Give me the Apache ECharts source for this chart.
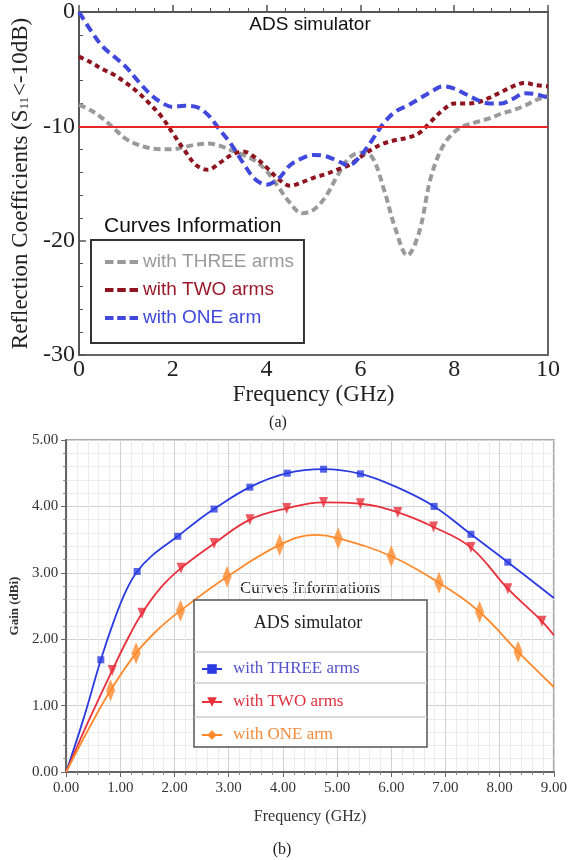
<!DOCTYPE html>
<html>
<head>
<meta charset="utf-8">
<script src="https://cdn.jsdelivr.net/npm/echarts@6.0.0/dist/echarts.min.js"></script>
<style>
html, body { margin: 0; padding: 0; background: #fff; }
#chart { width: 570px; height: 860px; }
</style>
</head>
<body>
<div id="chart"></div>
<script>
// (a) reflection coefficients, dB vs GHz
const freqA = [0, 0.25, 0.5, 0.75, 1, 1.25, 1.5, 1.75, 2, 2.25, 2.5, 2.75, 3, 3.25, 3.5, 3.75, 4, 4.25, 4.5, 4.75,
    5, 5.25, 5.5, 5.75, 6, 6.25, 6.5, 6.75, 7, 7.25, 7.5, 7.75, 8, 8.25, 8.5, 8.75, 9, 9.25, 9.5, 9.75, 10];
const s11Three = [-8.1, -8.6, -9.3, -10.2, -11.1, -11.6, -11.9, -12.0, -12.0, -11.8, -11.6, -11.5, -11.7, -12.1, -12.5, -13.0, -13.9, -15.3, -16.7, -17.6,
    -17.3, -16.2, -14.4, -12.8, -12.3, -12.7, -15.5, -19.0, -21.3, -19.3, -14.5, -11.8, -10.5, -9.9, -9.6, -9.3, -8.9, -8.6, -8.2, -7.7, -7.3];
const s11Two = [-3.9, -4.4, -5.0, -5.5, -6.2, -7.0, -8.0, -9.1, -10.6, -12.1, -13.4, -13.8, -13.2, -12.5, -12.2, -12.7, -13.6, -14.6, -15.2, -14.9,
    -14.5, -14.2, -13.8, -13.4, -12.7, -12.0, -11.5, -11.2, -11.0, -10.6, -9.6, -8.6, -8.0, -8.0, -7.9, -7.5, -7.0, -6.5, -6.2, -6.4, -6.5];
const s11One = [0, -1.6, -3.0, -3.9, -4.8, -6.0, -7.1, -7.9, -8.3, -8.2, -8.3, -9.0, -10.3, -11.6, -13.2, -14.6, -15.1, -14.6, -13.4, -12.8,
    -12.5, -12.6, -13.0, -13.4, -12.6, -11.2, -9.7, -8.7, -8.2, -7.6, -7.0, -6.5, -6.7, -7.2, -7.7, -8.0, -8.0, -7.6, -7.1, -7.2, -7.5];
const s11Limit = -10;

// (b) gain, [GHz, dBi]
const gainThreeLine = [[0, 0], [0.32, 0.8], [0.64, 1.69], [0.87, 2.25], [1.1, 2.72], [1.31, 3.02], [1.6, 3.27], [2.06, 3.55], [2.4, 3.77], [2.73, 3.96],
    [3.39, 4.29], [4.08, 4.5], [4.75, 4.56], [5.43, 4.49], [6.1, 4.29], [6.79, 4.0], [7.47, 3.58], [8.15, 3.16], [9, 2.62]];
const gainThreeMarks = [[0.64, 1.69], [1.31, 3.02], [2.06, 3.55], [2.73, 3.96], [3.39, 4.29], [4.08, 4.5], [4.75, 4.56], [5.43, 4.49],
    [6.79, 4.0], [7.47, 3.58], [8.15, 3.16]];
const gainTwoLine = [[0, 0], [0.42, 0.78], [0.85, 1.53], [1.12, 1.98], [1.4, 2.39], [1.75, 2.78], [2.12, 3.07], [2.73, 3.44], [3.39, 3.8],
    [4.07, 3.97], [4.75, 4.06], [5.43, 4.04], [6.12, 3.91], [6.78, 3.69], [7.47, 3.38], [8.15, 2.76], [8.78, 2.27], [9, 2.06]];
const gainTwoMarks = [[0.85, 1.53], [1.4, 2.39], [2.12, 3.07], [2.73, 3.44], [3.39, 3.8], [4.07, 3.97], [4.75, 4.06], [5.43, 4.04],
    [6.12, 3.91], [6.78, 3.69], [7.47, 3.38], [8.15, 2.76], [8.78, 2.27]];
const gainOneLine = [[0, 0], [0.41, 0.64], [0.82, 1.23], [1.29, 1.79], [1.7, 2.15], [2.11, 2.43], [2.97, 2.94], [3.94, 3.42], [4.59, 3.57],
    [5.02, 3.52], [6.0, 3.25], [6.88, 2.85], [7.63, 2.41], [8.34, 1.81], [9, 1.28]];
const gainOneMarks = [[0.82, 1.23], [1.29, 1.79], [2.11, 2.43], [2.97, 2.94], [3.94, 3.42], [5.02, 3.52], [6.0, 3.25], [6.88, 2.85],
    [7.63, 2.41], [8.34, 1.81]];

const SERIF = 'Liberation Serif';
const SANS = 'Liberation Sans';
const legendNames = { a3: 'with THREE arms', a2: 'with TWO arms', a1: 'with ONE arm', b3: 'with THREE arms', b2: 'with TWO arms', b1: 'with ONE arm' };
const dashIcon = 'path://M0,0h9v4h-9z M13,0h9v4h-9z M26,0h9v4h-9z';

function s11Series(name, values, color, dash) {
    return {
        name: name, type: 'line', xAxisIndex: 0, yAxisIndex: 0,
        data: freqA.map((f, i) => [f, values[i]]),
        smooth: 0.35, symbol: 'none', color: color,
        lineStyle: { color: color, width: 4, type: dash }
    };
}

function gainSeries(name, line, marks, color, symbol, size, rotate) {
    return [{
        name: name, type: 'line', xAxisIndex: 1, yAxisIndex: 1, data: line,
        smooth: 0.4, showSymbol: false, symbol: symbol, symbolRotate: rotate, color: color,
        lineStyle: { color: color, width: 1.8 }
    }, {
        name: name + '-m', type: 'scatter', xAxisIndex: 1, yAxisIndex: 1, data: marks,
        symbol: symbol, symbolSize: size, symbolRotate: rotate, itemStyle: { color: color }, z: 4
    }];
}

const chart = echarts.init(document.getElementById('chart'));
const grey = '#9a9a9a', maroon = '#8e1420', blue = '#4049dc';
const gBlue = '#2a3ce0', gRed = '#e8303c', gOrange = '#ff8a2c';

const s11Grey = s11Series('a3', s11Three, grey, [7, 4]);
s11Grey.markLine = {
    silent: true, symbol: 'none', label: { show: false },
    lineStyle: { color: '#e8262a', width: 2, type: 'solid' },
    data: [{ yAxis: s11Limit }]
};

chart.setOption({
    animation: false,
    grid: [
        { left: 79, top: 12, width: 469, height: 343, show: true, borderColor: '#666', borderWidth: 2 },
        { left: 59, top: 440, width: 496, height: 332, show: true, borderColor: '#aaa', borderWidth: 2 }
    ],
    xAxis: [{
        gridIndex: 0, type: 'value', min: 0, max: 10, interval: 2,
        axisLine: { lineStyle: { color: '#555', width: 2 } },
        axisTick: { inside: true, length: 7, lineStyle: { color: '#555', width: 1.5 } },
        minorTick: { show: true, splitNumber: 5, length: 4, lineStyle: { color: '#555' } },
        splitLine: { show: false },
        axisLabel: { fontFamily: SERIF, fontSize: 24, color: '#222', margin: 3 },
        name: 'Frequency (GHz)', nameLocation: 'middle', nameGap: 28,
        nameTextStyle: { fontFamily: SERIF, fontSize: 23, color: '#222' }
    }, {
        gridIndex: 1, type: 'value', min: 0, max: 9, interval: 1,
        axisLine: { lineStyle: { color: '#666', width: 2 } },
        axisTick: { length: 5, lineStyle: { color: '#666' } },
        minorTick: { show: true, splitNumber: 5, length: 3, lineStyle: { color: '#888' } },
        splitLine: { show: true, lineStyle: { color: '#d2d2d2' } },
        minorSplitLine: { show: true, lineStyle: { color: '#ececec' } },
        axisLabel: { fontFamily: SERIF, fontSize: 15, color: '#333', margin: 9, formatter: v => v.toFixed(2) },
        name: 'Frequency (GHz)', nameLocation: 'middle', nameGap: 37,
        nameTextStyle: { fontFamily: SERIF, fontSize: 16, color: '#333' }
    }],
    yAxis: [{
        gridIndex: 0, type: 'value', min: -30, max: 0, interval: 10,
        axisLine: { lineStyle: { color: '#555', width: 2 } },
        axisTick: { inside: true, length: 7, lineStyle: { color: '#555', width: 1.5 } },
        minorTick: { show: true, splitNumber: 5, length: 4, lineStyle: { color: '#555' } },
        splitLine: { show: false },
        axisLabel: { fontFamily: SERIF, fontSize: 24, color: '#222', margin: 4 },
        name: '{a|Reflection Coefficients (S}{s|11}{a|<-10dB)}', nameLocation: 'middle', nameGap: 46,
        nameTextStyle: {
            rich: {
                a: { fontFamily: SERIF, fontSize: 23, color: '#222' },
                s: { fontFamily: SERIF, fontSize: 13, color: '#222', padding: [8, 1, 0, 0] }
            }
        }
    }, {
        gridIndex: 1, type: 'value', min: 0, max: 5, interval: 1,
        axisLine: { lineStyle: { color: '#666', width: 2 } },
        axisTick: { length: 5, lineStyle: { color: '#666' } },
        minorTick: { show: true, splitNumber: 5, length: 3, lineStyle: { color: '#888' } },
        splitLine: { show: true, lineStyle: { color: '#d2d2d2' } },
        minorSplitLine: { show: true, lineStyle: { color: '#ececec' } },
        axisLabel: { fontFamily: SERIF, fontSize: 15, color: '#333', margin: 8, formatter: v => v.toFixed(2) },
        name: 'Gain (dBi)', nameLocation: 'middle', nameGap: 40,
        nameTextStyle: { fontFamily: SERIF, fontSize: 13, fontWeight: 'bold', color: '#333' }
    }],
    legend: [{
        orient: 'vertical', left: 91, top: 240, z: 20,
        padding: [12, 10, 15, 14], borderColor: '#333', borderWidth: 2, backgroundColor: '#fff',
        itemWidth: 33, itemHeight: 5, itemGap: 8, icon: dashIcon,
        formatter: n => legendNames[n],
        textStyle: { fontFamily: SANS, fontSize: 19, lineHeight: 20 },
        data: [
            { name: 'a3', textStyle: { color: grey } },
            { name: 'a2', textStyle: { color: '#9b1b2a' } },
            { name: 'a1', textStyle: { color: blue } }
        ]
    }, {
        orient: 'vertical', left: 196, top: 654, z: 20,
        itemWidth: 20, itemHeight: 12, itemGap: 13,
        formatter: n => legendNames[n],
        textStyle: { fontFamily: SERIF, fontSize: 17, lineHeight: 20, padding: [0, 0, 0, 6] },
        data: [
            { name: 'b3', textStyle: { color: '#5052cc' } },
            { name: 'b2', textStyle: { color: '#e0303e' } },
            { name: 'b1', textStyle: { color: '#f08a3a' } }
        ]
    }],
    graphic: [
        { type: 'text', x: 310, y: 25, style: { text: 'ADS simulator', fontFamily: SANS, fontSize: 19, fill: '#111', align: 'center', verticalAlign: 'middle' } },
        { type: 'text', x: 104, y: 226, style: { text: 'Curves Information', fontFamily: SANS, fontSize: 21, fill: '#111', align: 'left', verticalAlign: 'middle' } },
        { type: 'text', x: 278, y: 423, style: { text: '(a)', fontFamily: SERIF, fontSize: 16, fill: '#222', align: 'center', verticalAlign: 'middle' } },
        { type: 'text', x: 310, y: 589, style: { text: 'Curves Informations', fontFamily: SERIF, fontSize: 17, fill: '#222', align: 'center', verticalAlign: 'middle' } },
        { type: 'rect', z: 10, shape: { x: 194, y: 600, width: 233, height: 147 }, style: { fill: '#fff', stroke: '#555', lineWidth: 1.5 } },
        { type: 'line', z: 11, shape: { x1: 194, y1: 652, x2: 427, y2: 652 }, style: { stroke: '#cfcfcf', lineWidth: 1.5 } },
        { type: 'line', z: 11, shape: { x1: 194, y1: 683, x2: 427, y2: 683 }, style: { stroke: '#cfcfcf', lineWidth: 1.5 } },
        { type: 'line', z: 11, shape: { x1: 194, y1: 717, x2: 427, y2: 717 }, style: { stroke: '#cfcfcf', lineWidth: 1.5 } },
        { type: 'text', z: 11, x: 308, y: 623, style: { text: 'ADS simulator', fontFamily: SERIF, fontSize: 18, fill: '#222', align: 'center', verticalAlign: 'middle' } },
        { type: 'text', x: 282, y: 850, style: { text: '(b)', fontFamily: SERIF, fontSize: 16, fill: '#222', align: 'center', verticalAlign: 'middle' } }
    ],
    series: [
        s11Grey,
        s11Series('a2', s11Two, maroon, [5, 4]),
        s11Series('a1', s11One, blue, [9, 5]),
        ...gainSeries('b3', gainThreeLine, gainThreeMarks, gBlue, 'rect', 7, 0),
        ...gainSeries('b2', gainTwoLine, gainTwoMarks, gRed, 'triangle', [9, 11], 180),
        ...gainSeries('b1', gainOneLine, gainOneMarks, gOrange, 'diamond', [9, 22], 0)
    ]
});

window.addEventListener('resize', () => chart.resize());
</script>
</body>
</html>
